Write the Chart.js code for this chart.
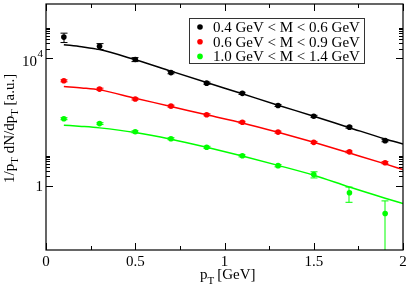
<!DOCTYPE html>
<html>
<head>
<meta charset="utf-8">
<script src="https://cdn.jsdelivr.net/npm/chart.js@4/dist/chart.umd.min.js"></script>
<style>
  html, body { margin: 0; padding: 0; background: #fff; }
</style>
</head>
<body>
<canvas id="chart" width="409" height="286"></canvas>
<script>
// measured points (pT in GeV)
const ptPoints = [0.1, 0.3, 0.5, 0.7, 0.9, 1.1, 1.3, 1.5, 1.7, 1.9];
const lowMass = [46100, 23800, 9180, 3560, 1667, 800, 334, 153, 70, 26.4];
const lowMassErr = [15000, 5000, 1300, 280, 130, 60, 25, 11, 5, 2];
const midMass = [1977, 1087, 533, 318, 171, 99.5, 49, 23.4, 11.8, 5.4];
const midMassErr = [140, 75, 37, 22, 12, 7, 3.4, 1.6, 0.8, 0.4];
const highMass = [128.7, 90.2, 50, 30.4, 16.4, 8.87, 4.36, 2.3, 0.621, 0.139];
const highMassErr = [9, 6, 3.5, 2.1, 1.2, 0.65, 0.35, 0.5, 0.31, 0.205];

// fit curves
const ptCurve = [0.1, 0.2, 0.3, 0.5, 0.7, 0.9, 1.1, 1.3, 1.5, 1.7, 1.9, 2.0];
const lowMassFit = [26700, 22950, 18700, 8990, 3965, 1750, 773, 341, 153, 67.4, 29.9, 20.8];
const midMassFit = [1318, 1183, 1027, 561, 311, 170, 94.8, 48.2, 23.4, 10.8, 4.95, 3.28];
const highMassFit = [80.5, 73.9, 66.4, 47.6, 29.3, 16.4, 8.75, 4.45, 2.19, 0.931, 0.417, 0.284];

const legendLabels = ['0.4 GeV < M < 0.6 GeV', '0.6 GeV < M < 0.9 GeV', '1.0 GeV < M < 1.4 GeV'];
const seriesColors = ['#000000', '#ff0000', '#00ff00'];

const xTickValues = [0, 0.5, 1, 1.5, 2];
const xTickLabels = ['0', '0.5', '1', '1.5', '2'];
const xMinorValues = [0.25, 0.75, 1.25, 1.75];
const yTickValues = [1, 10000];
const yMinorValues = [2, 3, 4, 5, 6, 7, 8, 9, 20000, 30000, 40000, 50000, 60000, 70000, 80000, 90000];

const serif = '"Liberation Serif", "DejaVu Serif", serif';

function toXY(xs, ys) {
  return xs.map((x, i) => ({ x: x, y: ys[i] }));
}

const pointSets = [lowMass, midMass, highMass];
const errSets = [lowMassErr, midMassErr, highMassErr];
const fitSets = [lowMassFit, midMassFit, highMassFit];

const datasets = [];
fitSets.forEach((fit, i) => {
  datasets.push({
    data: toXY(ptCurve, fit),
    showLine: true,
    borderColor: seriesColors[i],
    borderWidth: 1.5,
    pointRadius: 0,
    tension: 0.4,
    cubicInterpolationMode: 'monotone'
  });
});
pointSets.forEach((pts, i) => {
  datasets.push({
    data: toXY(ptPoints, pts),
    showLine: false,
    pointRadius: 2.8,
    pointBackgroundColor: seriesColors[i],
    pointBorderWidth: 0
  });
});

// error bars under the points
const errorBars = {
  id: 'errorBars',
  afterDatasetsDraw(chart) {
    const ctx = chart.ctx, xs = chart.scales.x, ys = chart.scales.y;
    const area = chart.chartArea;
    ctx.save();
    ctx.lineWidth = 1;
    errSets.forEach((errs, i) => {
      ctx.strokeStyle = seriesColors[i];
      ptPoints.forEach((pt, j) => {
        const v = pointSets[i][j], e = errs[j];
        const px = Math.round(xs.getPixelForValue(pt));
        const top = ys.getPixelForValue(v + e);
        const low = v - e > 0 ? ys.getPixelForValue(v - e) : area.bottom;
        const bot = Math.min(low, area.bottom);
        ctx.beginPath();
        ctx.moveTo(px, top);
        ctx.lineTo(px, bot);
        ctx.moveTo(px - 3.5, top);
        ctx.lineTo(px + 3.5, top);
        if (v - e > 0) {
          ctx.moveTo(px - 3.5, bot);
          ctx.lineTo(px + 3.5, bot);
        }
        ctx.stroke();
      });
    });
    ctx.restore();
  }
};

// frame, ticks on all four sides, labels, titles and legend
const frame = {
  id: 'frame',
  afterDraw(chart) {
    const ctx = chart.ctx, xs = chart.scales.x, ys = chart.scales.y;
    const a = chart.chartArea;
    ctx.save();
    ctx.strokeStyle = '#000';
    ctx.lineWidth = 1.2;
    ctx.strokeRect(a.left, a.top, a.right - a.left, a.bottom - a.top);

    ctx.lineWidth = 1;
    ctx.beginPath();
    xTickValues.concat(xMinorValues).forEach((v, k) => {
      const len = k < xTickValues.length ? 7 : 4;
      const px = Math.round(xs.getPixelForValue(v)) + 0.5;
      ctx.moveTo(px, a.bottom); ctx.lineTo(px, a.bottom - len);
      ctx.moveTo(px, a.top); ctx.lineTo(px, a.top + len);
    });
    yTickValues.concat(yMinorValues).forEach((v, k) => {
      const len = k < yTickValues.length ? 7 : 4;
      const py = Math.round(ys.getPixelForValue(v)) + 0.5;
      ctx.moveTo(a.left, py); ctx.lineTo(a.left + len, py);
      ctx.moveTo(a.right, py); ctx.lineTo(a.right - len, py);
    });
    ctx.stroke();

    // tick labels
    ctx.fillStyle = '#000';
    ctx.font = '15px ' + serif;
    ctx.textAlign = 'center';
    ctx.textBaseline = 'alphabetic';
    xTickValues.forEach((v, k) => {
      ctx.fillText(xTickLabels[k], xs.getPixelForValue(v), 266);
    });
    ctx.textAlign = 'right';
    ctx.fillText('1', 43, ys.getPixelForValue(1) + 5);
    const y4 = ys.getPixelForValue(10000);
    ctx.font = '11px ' + serif;
    ctx.fillText('4', 43, y4 - 1);
    ctx.font = '15px ' + serif;
    ctx.fillText('10', 37, y4 + 8);

    // x title: p_T [GeV]
    ctx.textAlign = 'left';
    let x0 = 200;
    ctx.font = '15px ' + serif;
    ctx.fillText('p', x0, 279);
    x0 += ctx.measureText('p').width;
    ctx.font = '11px ' + serif;
    ctx.fillText('T', x0, 284);
    x0 += ctx.measureText('T').width + 3;
    ctx.font = '15px ' + serif;
    ctx.fillText('[GeV]', x0, 279);

    // y title: 1/p_T dN/dp_T [a.u.]
    ctx.translate(14, 183);
    ctx.rotate(-Math.PI / 2);
    const parts = [['1/p', false], ['T', true], [' dN/dp', false], ['T', true], [' [a.u.]', false]];
    let t = 0;
    parts.forEach(p => {
      ctx.font = (p[1] ? '11px ' : '15px ') + serif;
      ctx.fillText(p[0], t, p[1] ? 4 : 0);
      t += ctx.measureText(p[0]).width;
    });
    ctx.setTransform(1, 0, 0, 1, 0, 0);

    // legend
    ctx.lineWidth = 1;
    ctx.strokeStyle = '#333';
    ctx.strokeRect(189.5, 18.5, 175, 45);
    ctx.font = '15px ' + serif;
    ctx.textAlign = 'left';
    legendLabels.forEach((lab, i) => {
      const cy = 27 + i * 14.7;
      ctx.fillStyle = seriesColors[i];
      ctx.beginPath();
      ctx.arc(200, cy, 2.8, 0, Math.PI * 2);
      ctx.fill();
      ctx.fillStyle = '#000';
      ctx.fillText(lab, 213, cy + 5);
    });
    ctx.restore();
  }
};

new Chart(document.getElementById('chart'), {
  type: 'scatter',
  data: { datasets: datasets },
  options: {
    responsive: false,
    devicePixelRatio: 1,
    animation: false,
    layout: { padding: { top: 1, right: 6, left: 0, bottom: 0 } },
    plugins: { legend: { display: false }, tooltip: { enabled: false } },
    scales: {
      x: {
        type: 'linear', min: 0, max: 2,
        ticks: { display: false },
        grid: { display: false },
        border: { display: false },
        afterFit: s => { s.height = 36; }
      },
      y: {
        type: 'logarithmic', min: 0.01, max: 500000,
        ticks: { display: false },
        grid: { display: false },
        border: { display: false },
        afterFit: s => { s.width = 46; }
      }
    }
  },
  plugins: [errorBars, frame]
});
</script>
</body>
</html>
